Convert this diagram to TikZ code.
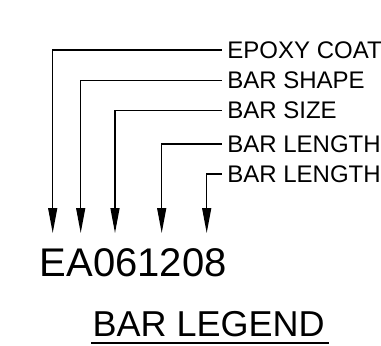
\documentclass[tikz,border=0pt]{standalone}
\usepackage{fontspec}
\setmainfont{Liberation Sans}
\usetikzlibrary{arrows.meta}

\tikzset{
  lbl/.style={anchor=west, inner xsep=5.5pt, inner ysep=0pt, font=\fontsize{24}{28}\selectfont},
  leg/.style={line width=1.3pt, -{Triangle[length=25pt,width=9pt]}}
}

\begin{document}
\begin{tikzpicture}[x=1pt, y=-1pt]
  \useasboundingbox (0,0) rectangle (381,346);

  % Legend lines
  \foreach \i/\x/\y/\txt in {1/52.7/50/EPOXY COAT, 2/80.7/80.7/BAR SHAPE, 3/115/110.7/BAR SIZE,
                             4/161.7/144/BAR LENGTH, 5/206.7/174/BAR LENGTH}
  {
    \node[lbl] (lab\i) at (221.7,\y) {\txt};
    \coordinate (tip\i) at (\x,233);
    \draw[leg] (lab\i.west) -| (tip\i);
  }

  % Bar mark
  \node[anchor=base west, inner sep=0pt, font=\fontsize{40}{48}\selectfont] (mark) at (39.5,276.7) {EA061208};

  % Title
  \node[anchor=base west, inner sep=0pt, font=\fontsize{36}{43}\selectfont] (title) at (92.4,336.7) {BAR LEGEND};
  \draw[line width=1.6pt] ([xshift=-1pt,yshift=-6.5pt]title.base west) -- ([xshift=4pt,yshift=-6.5pt]title.base east);
\end{tikzpicture}
\end{document}
